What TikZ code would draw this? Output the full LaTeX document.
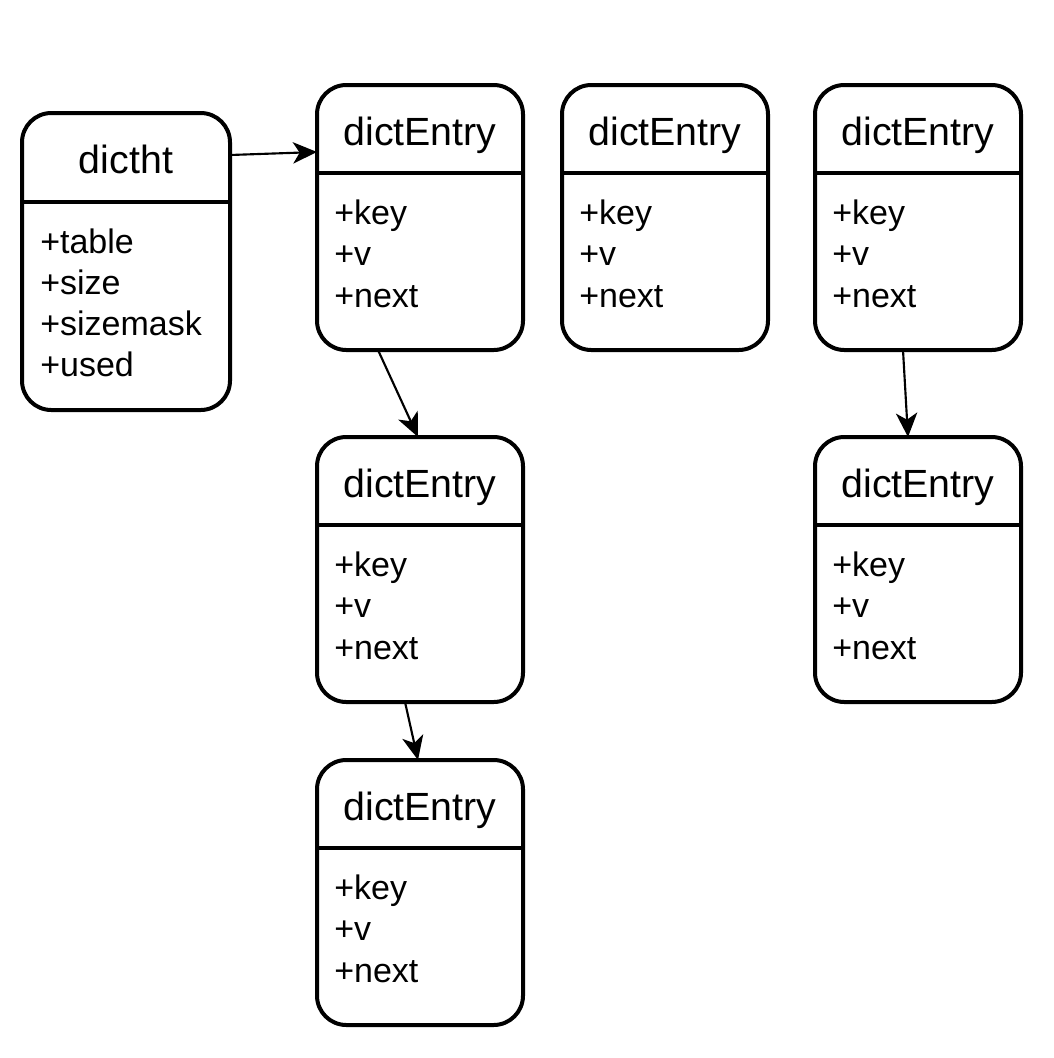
\documentclass[tikz,border=0pt]{standalone}
\usepackage{fontspec}
\setmainfont{Liberation Sans}
\usetikzlibrary{calc,arrows.meta}
\tikzset{
  box/.style={draw=black, line width=3pt, rounded corners=22pt, fill=white,
    minimum width=206*0.75pt, outer sep=0pt, inner sep=0pt},
  sep/.style={line width=3pt},
  ttl/.style={font=\fontsize{29.5pt}{35pt}\selectfont, inner sep=0pt, anchor=base},
  fld/.style={font=\fontsize{25.5pt}{31pt}\selectfont, inner sep=0pt, anchor=base west},
  arr/.style={line width=1.6pt, -{Stealth[length=18pt,width=16pt,inset=5pt]}},
}
\newcommand\entrybox[6]{% name, left, top, height, title, fields
  \node[box, minimum height=#4*0.75pt, anchor=north west] (#1) at (#2,#3) {};
  \draw[sep] ($(#1.north west)+(0,88)$) -- ($(#1.north east)+(0,88)$);
  \node[ttl] (#1-t) at ($(#1.north)+(0,60)$) {#5};
  \foreach \fldtext [count=\fldi] in {#6}
    \node[fld] (#1-f\fldi) at ($(#1.north west)+(17,{139+(\fldi-1)*41.5})$) {\fldtext};
}
\begin{document}
\begin{tikzpicture}[x=0.75pt,y=-0.75pt]
\useasboundingbox (0,0) rectangle (1054,1058);
\fill[white] (0,0) rectangle (1054,1058);
% dictht
\node[box, minimum width=208*0.75pt, minimum height=297*0.75pt, anchor=north west] (ht) at (22,113) {};
\draw[sep] ($(ht.north west)+(0,89)$) -- ($(ht.north east)+(0,89)$);
\node[ttl] (ht-t) at ($(ht.north)+(0,60)$) {dictht};
\foreach \fldtext [count=\fldi] in {+table,+size,+sizemask,+used}
  \node[fld] (ht-f\fldi) at ($(ht.north west)+(18,{140+(\fldi-1)*41})$) {\fldtext};
% entries
\entrybox{e1}{317}{85}{265}{dictEntry}{+key,+v,+next}
\entrybox{e2}{562}{85}{265}{dictEntry}{+key,+v,+next}
\entrybox{e3}{815}{85}{265}{dictEntry}{+key,+v,+next}
\entrybox{e4}{317}{437}{265}{dictEntry}{+key,+v,+next}
\entrybox{e5}{815}{437}{265}{dictEntry}{+key,+v,+next}
\entrybox{e6}{317}{760}{265}{dictEntry}{+key,+v,+next}
% connectors
\draw[arr] ($(ht.north east)+(0,42)$) -- ($(e1.north west)+(0,67)$);
\draw[arr] ($(e1.south west)+(61,0)$) -- ($(e4.north west)+(101,0)$);
\draw[arr] ($(e3.south west)+(88,0)$) -- ($(e5.north west)+(93,0)$);
\draw[arr] ($(e4.south west)+(88,0)$) -- ($(e6.north west)+(101,0)$);
\end{tikzpicture}
\end{document}
